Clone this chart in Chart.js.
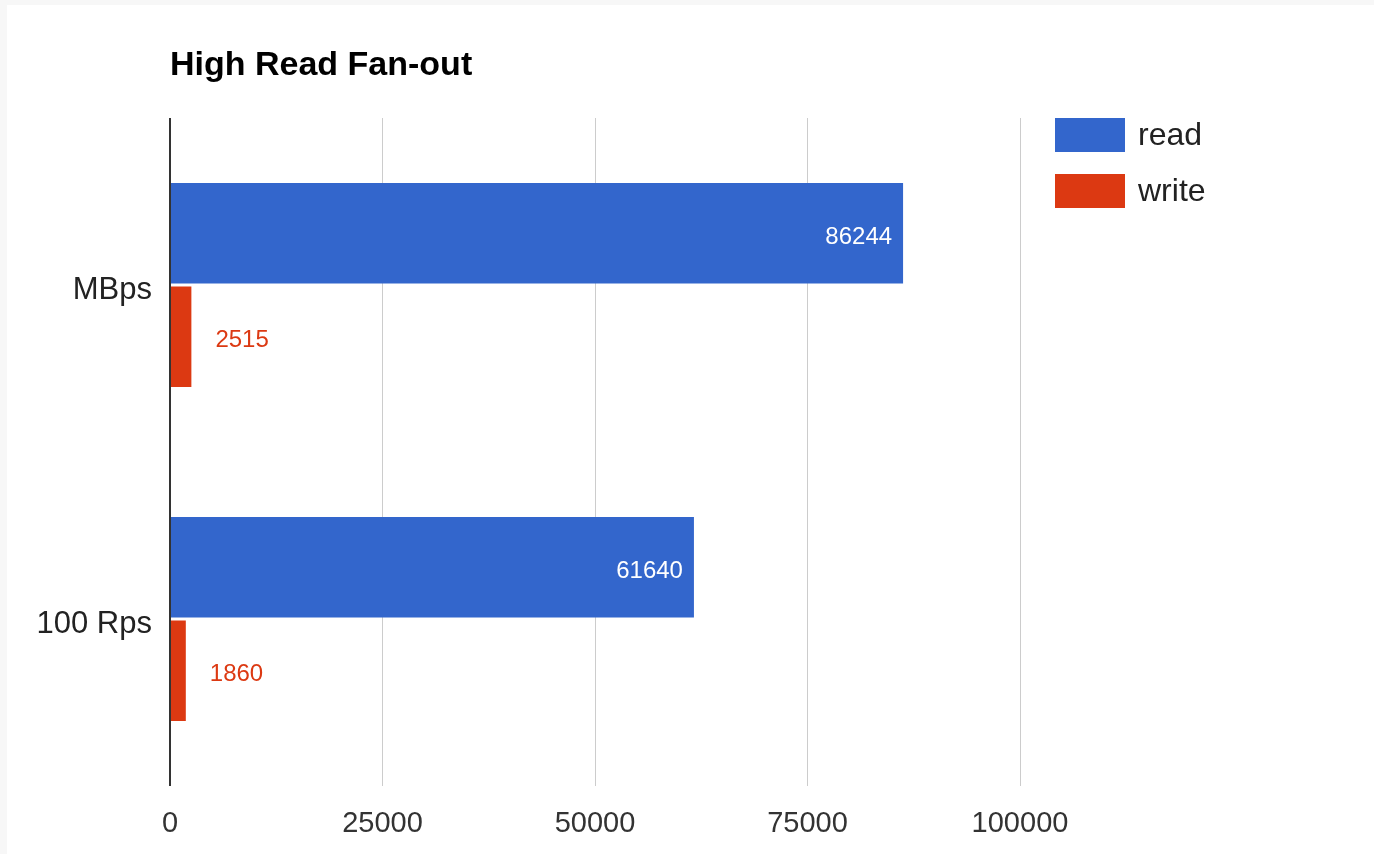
<!DOCTYPE html>
<html>
<head>
<meta charset="utf-8">
<title>High Read Fan-out</title>
<script src="https://cdn.jsdelivr.net/npm/chart.js@4/dist/chart.umd.min.js"></script>
<style>
  html, body { margin: 0; padding: 0; background: #f7f7f7; }
  body { width: 1374px; height: 854px; overflow: hidden; }
  #wrap { position: absolute; left: 7px; top: 5px; width: 1367px; height: 849px; background: #fff; }
</style>
</head>
<body>
<div id="wrap"><canvas id="myChart" width="1367" height="849"></canvas></div>
<script>
var categories = ['MBps', '100 Rps'];
var readValues = [86244, 61640];
var writeValues = [2515, 1860];
var xTicks = [0, 25000, 50000, 75000, 100000];

var blue = '#3366cc';
var red = '#dc3912';

// title, legend and the value labels on the bars
var extras = {
    id: 'extras',
    afterDraw: function (chart) {
        var ctx = chart.ctx;
        var area = chart.chartArea;
        ctx.save();
        ctx.fillStyle = '#000';
        ctx.font = 'bold 34px "Liberation Sans", Arial, sans-serif';
        ctx.textAlign = 'left';
        ctx.textBaseline = 'alphabetic';
        ctx.fillText('High Read Fan-out', area.left, 70);

        let lx = area.right + 35;
        let ly = area.top;
        chart.data.datasets.forEach(function (ds, i) {
            ctx.fillStyle = ds.backgroundColor;
            ctx.fillRect(lx, ly + i * 56, 70, 34);
            ctx.fillStyle = '#222';
            ctx.font = '32px "Liberation Sans", Arial, sans-serif';
            ctx.textBaseline = 'middle';
            ctx.fillText(ds.label, lx + 83, ly + i * 56 + 18);
        });
        ctx.restore();
    },
    afterDatasetsDraw: function (chart) {
        var ctx = chart.ctx;
        ctx.save();
        ctx.font = '24px "Liberation Sans", Arial, sans-serif';
        ctx.textBaseline = 'middle';
        chart.data.datasets.forEach(function (ds, i) {
            let meta = chart.getDatasetMeta(i);
            meta.data.forEach(function (bar, j) {
                let txt = String(ds.data[j]);
                if (i === 0) {
                    ctx.fillStyle = '#fff';
                    ctx.textAlign = 'right';
                    ctx.fillText(txt, bar.x - 11, bar.y + 4);
                } else {
                    ctx.fillStyle = red;
                    ctx.textAlign = 'left';
                    ctx.fillText(txt, bar.x + 24, bar.y + 4);
                }
            });
        });
        ctx.restore();
    }
};

var ctx = document.getElementById('myChart');
var myChart = new Chart(ctx, {
    type: 'bar',
    data: {
        labels: categories,
        datasets: [{
            label: 'read',
            data: readValues,
            backgroundColor: blue,
            categoryPercentage: 0.62,
            barPercentage: 0.97
        }, {
            label: 'write',
            data: writeValues,
            backgroundColor: red,
            categoryPercentage: 0.62,
            barPercentage: 0.97
        }]
    },
    options: {
        indexAxis: 'y',
        responsive: false,
        animation: false,
        layout: {
            padding: { left: 0, top: 113, right: 354, bottom: 0 }
        },
        plugins: {
            legend: { display: false },
            title: { display: false },
            tooltip: { enabled: false }
        },
        scales: {
            x: {
                min: 0,
                max: 100000,
                afterBuildTicks: function (scale) {
                    scale.ticks = xTicks.map(function (v) { return { value: v }; });
                },
                afterFit: function (scale) { scale.height = 68; },
                grid: {
                    color: function (c) { return c.tick && c.tick.value === 0 ? '#333' : '#cccccc'; },
                    lineWidth: function (c) { return c.tick && c.tick.value === 0 ? 2 : 1; },
                    drawTicks: false
                },
                border: { display: false },
                ticks: {
                    padding: 21,
                    color: '#333',
                    font: { family: '"Liberation Sans Narrow", "Liberation Sans", Arial', size: 29 },
                    callback: function (v) { return String(v); }
                }
            },
            y: {
                afterFit: function (scale) { scale.width = 163; },
                grid: { display: false, drawTicks: false },
                border: { display: false },
                ticks: {
                    padding: 18,
                    labelOffset: 5,
                    color: '#222',
                    font: { family: '"Liberation Sans", Arial', size: 31 }
                }
            }
        }
    },
    plugins: [extras]
});
</script>
</body>
</html>
